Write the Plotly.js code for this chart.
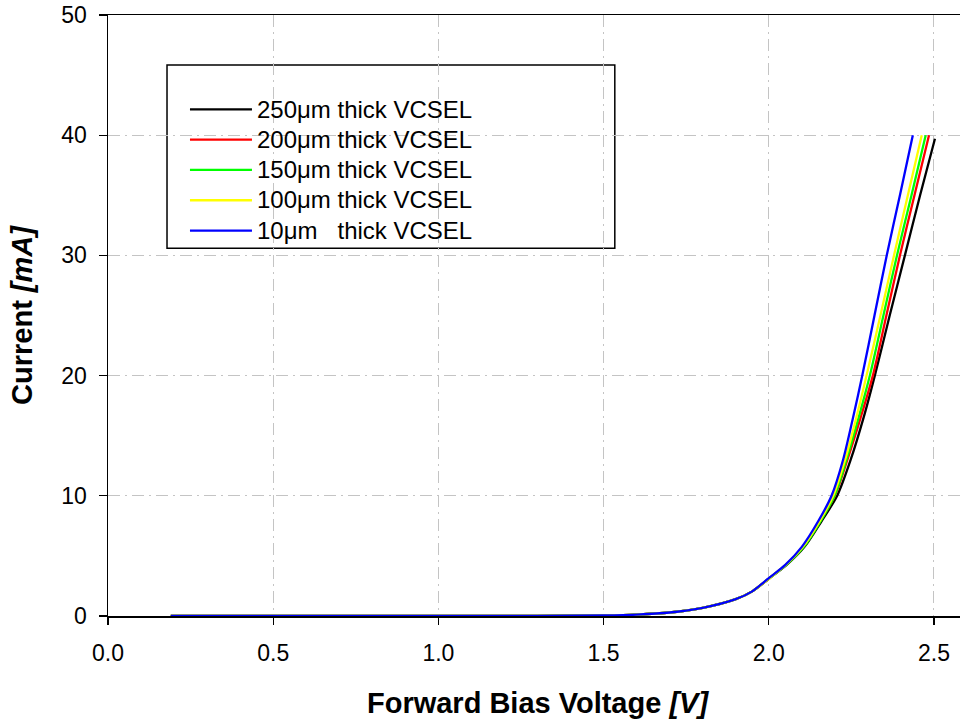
<!DOCTYPE html>
<html>
<head>
<meta charset="utf-8">
<script src="https://cdn.plot.ly/plotly-3.0.1.min.js"></script>
<style>
  html, body { margin: 0; padding: 0; overflow: hidden; background: #fff; }
  #chart { width: 980px; height: 721px; }
</style>
</head>
<body>
<div id="chart"></div>
<script>
// Forward-bias I-V curves of VCSELs with different substrate thickness
const seriesNames = [
  "250\u03bcm thick VCSEL",
  "200\u03bcm thick VCSEL",
  "150\u03bcm thick VCSEL",
  "100\u03bcm thick VCSEL",
  "10\u03bcm\u00a0\u00a0\u00a0thick VCSEL"
];
const seriesColors = ["#000000", "#ff0000", "#00ff00", "#ffff00", "#0000ff"];

// voltage [V]
const v250 = [0.19, 0.5, 1.0, 1.3, 1.5, 1.6, 1.7, 1.8, 1.9, 1.95, 2.0, 2.054, 2.108, 2.16, 2.207, 2.248, 2.287, 2.321, 2.366, 2.412, 2.458, 2.503];
const v200 = [0.19, 0.5, 1.0, 1.3, 1.5, 1.6, 1.7, 1.8, 1.9, 1.95, 2.0, 2.052, 2.105, 2.156, 2.2, 2.238, 2.278, 2.315, 2.356, 2.397, 2.441, 2.485];
const v150 = [0.19, 0.5, 1.0, 1.3, 1.5, 1.6, 1.7, 1.8, 1.9, 1.95, 2.0, 2.053, 2.106, 2.157, 2.199, 2.235, 2.272, 2.306, 2.347, 2.388, 2.432, 2.475];
const v100 = [0.19, 0.5, 1.0, 1.3, 1.5, 1.6, 1.7, 1.8, 1.9, 1.95, 2.0, 2.051, 2.103, 2.154, 2.195, 2.231, 2.265, 2.296, 2.338, 2.379, 2.421, 2.463];
const v10  = [0.19, 0.5, 1.0, 1.3, 1.5, 1.6, 1.7, 1.8, 1.9, 1.95, 2.0, 2.05, 2.1, 2.15, 2.19, 2.225, 2.255, 2.283, 2.32, 2.357, 2.397, 2.436];

// current [mA]
const i250 = [0, 0, 0, 0.01, 0.05, 0.12, 0.29, 0.68, 1.4, 2.05, 3.1, 4.25, 5.75, 7.9, 10, 13, 16.5, 20, 25, 30, 35, 39.7];
const i200 = [0, 0, 0, 0.01, 0.05, 0.12, 0.29, 0.68, 1.4, 2.05, 3.1, 4.25, 5.75, 7.9, 10, 13, 16.5, 20, 25, 30, 35, 40];
const i150 = [0, 0, 0, 0.01, 0.05, 0.12, 0.29, 0.68, 1.4, 2.05, 3.1, 4.25, 5.75, 7.9, 10, 13, 16.5, 20, 25, 30, 35, 40];
const i100 = [0, 0, 0, 0.01, 0.05, 0.12, 0.29, 0.68, 1.4, 2.05, 3.1, 4.25, 5.75, 7.9, 10, 13, 16.5, 20, 25, 30, 35, 40];
const i10  = [0, 0, 0, 0.01, 0.05, 0.12, 0.29, 0.68, 1.4, 2.05, 3.15, 4.25, 5.75, 7.9, 10, 13, 16.5, 20, 25, 30, 35, 40];

const xTickVals = [0, 0.5, 1.0, 1.5, 2.0, 2.5];
const xTickText = ["0.0", "0.5", "1.0", "1.5", "2.0", "2.5"];
const yTickVals = [0, 10, 20, 30, 40, 50];

const voltages = [v250, v200, v150, v100, v10];
const currents = [i250, i200, i150, i100, i10];

const traces = seriesNames.map((name, k) => ({
  type: "scatter",
  mode: "lines",
  name: '<span style="font-size:24px">' + name + '</span>',
  x: voltages[k],
  y: currents[k],
  line: { color: seriesColors[k], width: 2.3, shape: "spline", smoothing: 0.8 }
}));

const FONT = "Liberation Sans, Arial, sans-serif";
const gridDash = "12px,5px,2px,5px";

const layout = {
  width: 980,
  height: 721,
  margin: { l: 108, r: 13, t: 15, b: 105 },
  paper_bgcolor: "#ffffff",
  plot_bgcolor: "#ffffff",
  font: { family: FONT, color: "#000", size: 23 },
  showlegend: true,
  legend: {
    x: 0.0896, y: 0.8765, xanchor: "left", yanchor: "top",
    bgcolor: "rgba(0,0,0,0)",
    borderwidth: 0,
    itemwidth: 62,
    font: { family: FONT, size: 21, color: "#000" },
    tracegroupgap: 0
  },
  xaxis: {
    range: [0, 2.6],
    tickvals: xTickVals,
    ticktext: xTickText,
    ticks: "outside", ticklen: 7, tickwidth: 1.2, tickcolor: "#000",
    ticklabelstandoff: 9,
    showline: true, linecolor: "#000", linewidth: 1.5, mirror: true,
    showgrid: true, gridcolor: "#c4c4c4", gridwidth: 1, griddash: gridDash,
    zeroline: false,
    tickfont: { family: FONT, size: 23 },
    title: { text: "<b>Forward Bias Voltage <i>[V]</i></b>", font: { family: FONT, size: 29 }, standoff: 27 },
    fixedrange: true
  },
  yaxis: {
    range: [0, 50],
    tickvals: yTickVals,
    ticks: "outside", ticklen: 8, tickwidth: 1.2, tickcolor: "#000",
    ticklabelstandoff: 7,
    showline: true, linecolor: "#000", linewidth: 1.5, mirror: true,
    showgrid: true, gridcolor: "#c4c4c4", gridwidth: 1, griddash: gridDash,
    zeroline: false,
    tickfont: { family: FONT, size: 23 },
    title: { text: "<b>Current <i>[mA]</i></b>", font: { family: FONT, size: 29 }, standoff: 20 },
    fixedrange: true
  },
  shapes: [{
    type: "rect", xref: "paper", yref: "paper", layer: "between",
    x0: 0.0687, x1: 0.590, y0: 0.612, y1: 0.917,
    line: { color: "#000", width: 1.5 },
    fillcolor: "#ffffff"
  }]
};

Plotly.newPlot("chart", traces, layout, { staticPlot: true, displayModeBar: false });
</script>
</body>
</html>
